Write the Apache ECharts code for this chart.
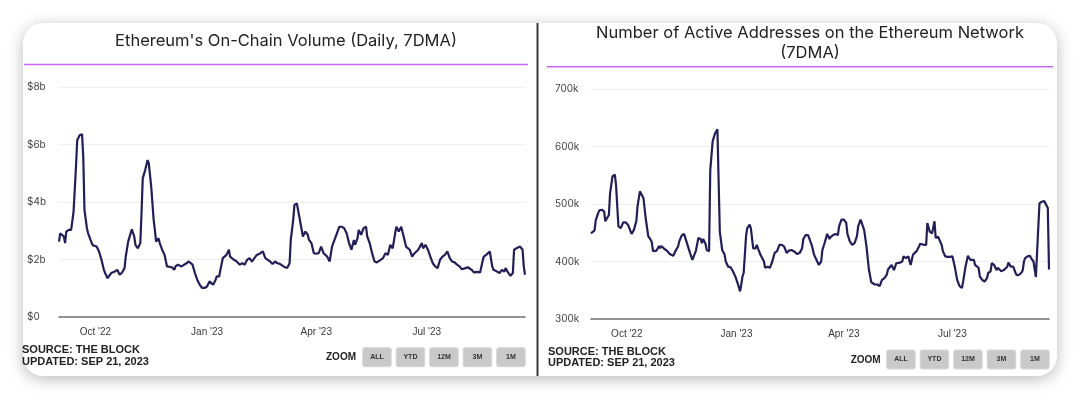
<!DOCTYPE html>
<html>
<head>
<meta charset="utf-8">
<script src="https://cdn.jsdelivr.net/npm/echarts@6/dist/echarts.min.js"></script>
<style>
  html, body { margin: 0; padding: 0; background: #ffffff; }
  #chart { width: 1080px; height: 400px; }
</style>
</head>
<body>
<div id="chart"></div>
<script>
// Day offsets from 1 Sep 2022 for the x-axis tick labels
const tickDays = [30, 122, 212, 303];
const tickLabels = ["Oct '22", "Jan '23", "Apr '23", "Jul '23"];

// Left chart: on-chain volume ($b), day offsets
const volDays = [
  0,1,2,4,5,6,8,9,10,12,
  13,14,15,17,19,20,21,23,24,26,
  27,28,31,33,35,37,38,40,41,43,
  46,48,50,52,54,55,57,59,60,62,
  63,65,67,68,69,71,73,74,76,78,
  79,80,82,83,85,87,89,90,93,95,
  96,98,101,102,105,107,108,110,112,114,
  116,118,120,122,124,127,129,130,132,133,
  135,138,140,141,144,146,149,151,153,155,
  157,159,161,163,166,168,170,172,174,176,
  178,180,182,185,188,190,191,193,194,196,
  198,199,201,203,205,206,208,210,212,214,
  216,218,221,223,225,227,229,231,233,235,
  237,239,241,243,244,246,247,249,251,253,
  254,256,258,260,262,265,267,269,271,273,
  275,277,278,280,282,284,286,287,289,291,
  293,296,297,299,300,302,304,306,308,310,
  312,314,316,318,320,322,324,326,328,330,
  332,335,337,340,342,345,347,349,350,352,
  355,357,358,361,363,365,367,368,370,372,
  374,375,377,378,380,382,383,384
];
const volValues = [
  2.62,2.91,2.97,2.80,2.57,2.97,3.03,2.97,3.03,3.66,
  3.72,5.23,6.15,6.32,6.36,5.57,3.72,3.09,2.91,2.68,
  2.57,2.49,2.45,2.28,1.99,1.64,1.53,1.35,1.39,1.53,
  1.58,1.64,1.47,1.55,1.70,2.10,2.62,2.91,3.05,2.80,
  2.51,2.39,2.57,3.61,4.82,5.11,5.46,5.34,4.53,3.38,
  3.03,2.62,2.74,2.57,2.34,2.16,1.76,1.70,1.73,1.64,
  1.76,1.82,1.76,1.70,1.87,1.93,1.99,1.82,1.53,1.29,
  1.12,1.01,1.01,1.06,1.24,1.12,1.29,1.41,1.41,1.64,
  2.05,2.16,2.34,2.10,1.99,1.95,1.82,1.87,1.82,1.99,
  2.05,1.93,2.05,2.16,2.22,2.28,2.05,1.99,1.93,1.84,
  1.93,1.87,1.85,1.76,1.70,1.87,2.68,3.38,3.90,3.95,
  3.49,3.26,2.80,2.97,2.86,2.68,2.57,2.22,2.20,2.22,
  2.45,2.22,2.10,1.93,2.45,2.68,2.91,3.14,3.14,3.09,
  2.91,2.57,2.34,2.68,2.51,2.74,3.03,2.86,3.09,3.14,
  2.80,2.57,2.22,1.93,1.90,1.99,2.05,2.22,2.16,2.51,
  2.39,2.91,3.14,2.97,3.14,2.80,2.45,2.51,2.34,2.10,
  2.22,2.34,2.39,2.57,2.39,2.51,2.34,2.10,1.87,1.76,
  1.70,1.99,2.10,2.16,2.28,2.05,1.93,1.90,1.82,1.76,
  1.66,1.70,1.73,1.64,1.55,1.57,1.55,1.93,2.10,2.16,
  2.28,1.76,1.64,1.58,1.53,1.64,1.58,1.70,1.55,1.43,
  1.53,2.34,2.39,2.39,2.45,2.34,1.76,1.47
];

// Right chart: active addresses (thousands)
const addrDays = [
  0,1,3,4,6,7,9,11,12,13,
  15,16,18,20,21,22,23,25,27,29,
  31,32,34,36,38,39,41,42,44,46,
  48,50,51,52,55,57,58,59,61,62,
  64,66,69,71,73,74,76,78,79,80,
  83,85,86,88,90,92,93,94,96,97,
  99,100,102,104,106,107,108,110,112,113,
  115,117,119,121,123,125,126,127,128,130,
  131,133,134,135,136,138,139,140,142,145,
  146,148,150,152,154,156,158,160,162,164,
  166,168,170,173,175,177,178,180,182,183,
  185,187,189,191,193,194,196,198,200,201,
  203,205,207,208,210,212,214,215,217,219,
  220,221,223,224,226,227,229,231,233,235,
  238,240,242,244,246,248,249,252,254,255,
  256,259,261,262,264,266,267,268,270,273,
  275,276,279,281,282,284,286,288,289,291,
  292,294,295,297,299,301,303,305,307,309,
  311,312,314,316,318,319,321,322,323,325,
  326,328,330,332,333,335,336,338,340,341,
  342,344,346,347,349,350,352,354,356,357,
  359,361,362,363,364,366,368,369,371,373,
  376,378,380,381,383,384
];
const addrValues = [
  449,448,454,472,484,489,490,487,470,467,
  481,519,548,551,533,496,461,458,468,468,
  464,461,448,455,470,496,522,525,510,473,
  444,438,433,418,419,427,423,427,423,426,
  418,413,410,419,426,435,445,448,446,435,
  415,403,406,419,441,439,432,439,431,420,
  418,559,609,623,630,540,452,420,412,400,
  391,390,383,374,362,348,360,374,380,444,
  458,464,458,461,423,423,429,423,412,400,
  389,391,389,400,415,418,429,429,426,415,
  419,420,418,413,415,423,439,446,446,443,
  429,412,403,394,400,420,433,448,439,443,
  446,448,446,461,473,473,467,448,435,429,
  432,432,444,461,473,467,455,426,386,364,
  360,360,357,368,371,377,386,394,385,391,
  397,398,400,409,406,409,412,394,412,418,
  426,431,429,429,467,452,449,470,441,443,
  443,429,418,409,408,408,409,391,368,357,
  354,365,391,410,403,400,403,394,391,389,
  374,368,365,371,380,383,397,394,385,389,
  386,383,385,383,391,398,391,391,380,376,
  377,381,385,400,406,409,410,406,400,373,
  501,504,505,507,493,386
];

const zoomButtons = ['ALL', 'YTD', '12M', '3M', '1M'];
const titles = ["Ethereum's On-Chain Volume (Daily, 7DMA)", "Number of Active Addresses on the Ethereum Network\n(7DMA)"];
const sourceText = 'SOURCE: THE BLOCK\nUPDATED: SEP 21, 2023';

const pair = (xs, ys) => xs.map((d, i) => [d, ys[i]]);

const lineColor = '#231e55';
const purple = '#c466f2';
const axisFont = 'Inter, "Noto Sans", sans-serif';
const arialFont = '"Liberation Sans", Arial, sans-serif';

function xAxisFor(gridIndex) {
  return {
    type: 'value', gridIndex, min: 0, max: 384,
    axisLine: { show: true, lineStyle: { color: '#707070', width: 1.5 } },
    axisTick: { show: false },
    splitLine: { show: false },
    axisLabel: {
      customValues: tickDays,
      formatter: v => tickLabels[tickDays.indexOf(v)] || '',
      color: '#3a3a3a', fontSize: 10, fontFamily: arialFont, margin: 10
    }
  };
}

function buttons(x0, y0) {
  const els = [];
  zoomButtons.forEach((b, i) => {
    const x = x0 + i * 33.5;
    els.push({ type: 'rect', shape: { x, y: y0, width: 28.5, height: 19, r: 2 },
      style: { fill: '#c9c9c9', stroke: '#d6d6d6', lineWidth: 1 } });
    els.push({ type: 'text', style: { x: x + 14.25, y: y0 + 9.5, text: b, align: 'center', verticalAlign: 'middle',
      font: 'bold 7px ' + arialFont, fill: '#333' } });
  });
  return els;
}

const chart = echarts.init(document.getElementById('chart'), null, { renderer: 'canvas' });
chart.setOption({
  backgroundColor: '#ffffff',
  animation: false,
  grid: [
    { left: 59, top: 87, width: 466, height: 230 },
    { left: 591, top: 89, width: 458, height: 230 }
  ],
  xAxis: [xAxisFor(0), xAxisFor(1)],
  yAxis: [
    { type: 'value', gridIndex: 0, min: 0, max: 8, interval: 2,
      axisLine: { show: false }, axisTick: { show: false },
      splitLine: { lineStyle: { color: '#eeeeee', width: 1 } },
      axisLabel: { formatter: v => v === 0 ? '$0' : '$' + v + 'b', align: 'left', margin: 32,
        color: '#444', fontSize: 10, fontFamily: axisFont } },
    { type: 'value', gridIndex: 1, min: 300, max: 700, interval: 100,
      axisLine: { show: false }, axisTick: { show: false },
      splitLine: { lineStyle: { color: '#eeeeee', width: 1 } },
      axisLabel: { formatter: v => v + 'k', align: 'left', margin: 36,
        color: '#444', fontSize: 10, fontFamily: axisFont } }
  ],
  series: [
    { type: 'line', xAxisIndex: 0, yAxisIndex: 0, data: pair(volDays, volValues),
      showSymbol: false, lineStyle: { color: lineColor, width: 2.2 }, z: 5 },
    { type: 'line', xAxisIndex: 1, yAxisIndex: 1, data: pair(addrDays, addrValues),
      showSymbol: false, lineStyle: { color: lineColor, width: 2.2 }, z: 5 }
  ],
  graphic: {
    elements: [
      { type: 'rect', z: -100, shape: { x: 23, y: 23, width: 1034, height: 353, r: 20 },
        style: { fill: '#ffffff', shadowBlur: 16, shadowColor: 'rgba(0,0,0,0.28)', shadowOffsetY: 3 } },
      { type: 'line', shape: { x1: 537.5, y1: 23, x2: 537.5, y2: 376 }, style: { stroke: '#3c3c3c', lineWidth: 2 } },
      { type: 'line', shape: { x1: 24, y1: 64.5, x2: 528, y2: 64.5 }, style: { stroke: purple, lineWidth: 1.5 } },
      { type: 'line', shape: { x1: 547, y1: 66.7, x2: 1053, y2: 66.7 }, style: { stroke: purple, lineWidth: 1.5 } },
      { type: 'text', style: { x: 286, y: 41, text: titles[0], align: 'center', verticalAlign: 'middle',
        font: '16.5px ' + axisFont, fill: '#222' } },
      { type: 'text', style: { x: 810, y: 43, text: titles[1], align: 'center', verticalAlign: 'middle',
        font: '16.5px ' + axisFont, fill: '#222', lineHeight: 20.6 } },
      { type: 'text', style: { x: 22, y: 356, text: sourceText, align: 'left', verticalAlign: 'middle',
        font: 'bold 11px ' + arialFont, fill: '#222', lineHeight: 11.6 } },
      { type: 'text', style: { x: 548, y: 357.5, text: sourceText, align: 'left', verticalAlign: 'middle',
        font: 'bold 11px ' + arialFont, fill: '#222', lineHeight: 11.6 } },
      { type: 'text', style: { x: 356, y: 357.3, text: 'ZOOM', align: 'right', verticalAlign: 'middle',
        font: 'bold 10px ' + arialFont, fill: '#222' } },
      { type: 'text', style: { x: 880.7, y: 360, text: 'ZOOM', align: 'right', verticalAlign: 'middle',
        font: 'bold 10px ' + arialFont, fill: '#222' } }
    ].concat(buttons(362.7, 347.7), buttons(886.7, 350))
  }
});
</script>
</body>
</html>
